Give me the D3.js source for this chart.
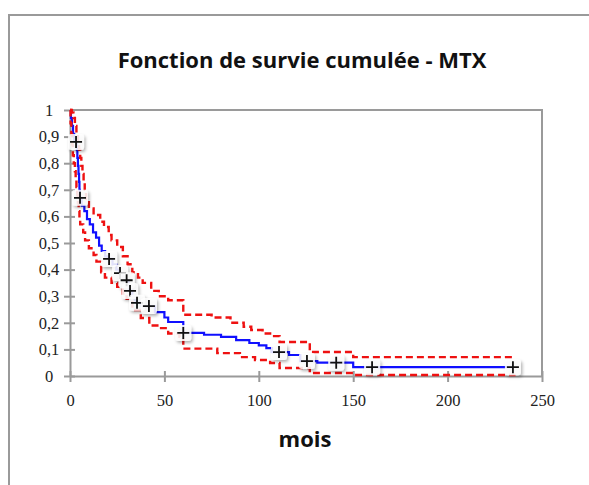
<!DOCTYPE html>
<html>
<head>
<meta charset="utf-8">
<script src="https://cdn.jsdelivr.net/npm/d3@7"></script>
<style>
  body { margin: 0; background: #fff; }
  svg { display: block; }
</style>
</head>
<body>
<script>
// Kaplan-Meier estimate (months, cumulative survival)
var kmTime = [0, 0.5, 1.0, 1.6, 2.2, 3.6, 3.9, 4.2, 4.5, 4.8, 5.0, 5.2, 6.2, 7.6, 9.0, 10.5, 12.2, 13.8, 15.4, 16.8, 18.6, 20.0,
  22.5, 24.5, 26.0, 28.0, 29.5, 31.0, 31.5, 33.0, 34.2, 35.0, 38.0, 45.0, 50.0, 52.0, 60.0, 71.0, 80.0, 88.0, 95.0,
  100.0, 104.0, 107.0, 116.0, 122.0, 131.0, 150.0, 234.6];
var kmSurv = [1, 0.97, 0.94, 0.91, 0.88, 0.85, 0.82, 0.79, 0.76, 0.73, 0.70, 0.67, 0.64, 0.62, 0.59, 0.57, 0.54, 0.52, 0.49, 0.47, 0.45, 0.44,
  0.42, 0.40, 0.387, 0.37, 0.36, 0.34, 0.32, 0.30, 0.285, 0.275, 0.263, 0.24, 0.22, 0.203, 0.162, 0.155, 0.147, 0.135, 0.124,
  0.115, 0.105, 0.09, 0.079, 0.056, 0.05, 0.033, 0.033];

// upper confidence bound
var upTime = [0, 1.0, 1.8, 2.6, 3.4, 4.2, 4.8, 5.4, 6.0, 6.6, 7.2, 7.8, 8.5, 10.0, 12.5, 16.0, 18.0, 20.5, 22.0, 25.0, 28.0,
  30.5, 33.0, 36.0, 38.5, 43.0, 47.0, 52.0, 60.0, 75.0, 85.0, 92.0, 96.0, 102.0, 106.0, 111.0, 127.0, 150.0, 236.0];
var upSurv = [1, 0.99, 0.97, 0.94, 0.91, 0.88, 0.85, 0.82, 0.79, 0.76, 0.73, 0.70, 0.66, 0.63, 0.605, 0.58, 0.56, 0.53, 0.51, 0.485, 0.45,
  0.42, 0.39, 0.37, 0.35, 0.32, 0.30, 0.285, 0.23, 0.22, 0.20, 0.185, 0.173, 0.16, 0.15, 0.128, 0.09, 0.071, 0.071];

// lower confidence bound
var loTime = [0, 0.3, 0.7, 1.1, 1.5, 2.0, 2.6, 3.0, 3.4, 3.8, 4.2, 4.6, 5.0, 5.4, 7.0, 8.0, 10.0, 12.5, 14.0, 16.5, 18.5,
  22.0, 25.0, 28.0, 30.0, 33.0, 37.5, 42.0, 47.0, 52.0, 58.0, 60.0, 78.0, 90.0, 98.0, 106.0, 111.0, 127.0, 150.0, 236.0];
var loSurv = [1, 0.95, 0.91, 0.87, 0.83, 0.80, 0.77, 0.74, 0.71, 0.68, 0.65, 0.62, 0.59, 0.57, 0.54, 0.51, 0.48, 0.455, 0.43, 0.39, 0.37,
  0.35, 0.335, 0.31, 0.29, 0.248, 0.218, 0.19, 0.18, 0.16, 0.147, 0.103, 0.086, 0.071, 0.06, 0.049, 0.03, 0.011, 0.004, 0.004];

// censored observations
var censTime = [3.2, 5.3, 20.7, 26.5, 30.0, 31.8, 35.5, 41.8, 60.0, 110.7, 125.5, 141.0, 160.0, 234.6];
var censSurv = [0.88, 0.67, 0.44, 0.387, 0.36, 0.32, 0.275, 0.263, 0.162, 0.09, 0.056, 0.05, 0.033, 0.033];

var xTicks = [0, 50, 100, 150, 200, 250];
var yTicks = [0, 0.1, 0.2, 0.3, 0.4, 0.5, 0.6, 0.7, 0.8, 0.9, 1];

var W = 589, H = 485;
var margin = {top: 110, right: 47, bottom: 109, left: 70},
    width = W - margin.left - margin.right,
    height = H - margin.top - margin.bottom;

var svg = d3.select("body").append("svg")
    .attr("width", W)
    .attr("height", H);

// shadow for the censor marks
var defs = svg.append("defs");
var f = defs.append("filter").attr("id", "sh")
    .attr("x", "-50%").attr("y", "-50%").attr("width", "200%").attr("height", "200%");
f.append("feDropShadow").attr("dx", 1.5).attr("dy", 2).attr("stdDeviation", 1.8)
    .attr("flood-color", "#000").attr("flood-opacity", 0.35);

// outer chart frame (cut by the window)
svg.append("rect")
    .attr("x", 9).attr("y", 15)
    .attr("width", 620).attr("height", 520)
    .style("fill", "#fff")
    .style("stroke", "#9a9a9a")
    .style("stroke-width", 2);

svg.append("text")
    .attr("x", 302).attr("y", 68)
    .attr("text-anchor", "middle")
    .style("font-family", "'Open Sans', sans-serif")
    .style("font-weight", "bold")
    .style("font-size", "22px")
    .style("fill", "#111")
    .text("Fonction de survie cumulée - MTX");

var g = svg.append("g")
    .attr("transform", "translate(" + margin.left + "," + margin.top + ")");

var x = d3.scaleLinear().domain([0, 250]).range([0, width]);
var y = d3.scaleLinear().domain([0, 1]).range([height, 0]);

// plot border (top and right)
g.append("path")
    .attr("d", "M0,0H" + width + "V" + height)
    .style("fill", "none")
    .style("stroke", "#9a9a9a")
    .style("stroke-width", 2);

var yaxis = d3.axisLeft(y)
    .tickValues(yTicks)
    .tickSizeInner(6).tickSizeOuter(0)
    .tickPadding(14)
    .tickFormat(function(d) { return d3.format(".1~f")(d).replace(".", ","); });

var xaxis = d3.axisBottom(x)
    .tickValues(xTicks)
    .tickSizeInner(6).tickSizeOuter(0)
    .tickPadding(12);

var gy = g.append("g").attr("class", "axis").call(yaxis);
var gx = g.append("g").attr("class", "axis")
    .attr("transform", "translate(0," + height + ")")
    .call(xaxis);

[gx, gy].forEach(function(a) {
    a.select(".domain").style("stroke", "#9a9a9a").style("stroke-width", 2);
    a.selectAll(".tick line").style("stroke", "#9a9a9a").style("stroke-width", 2);
    a.selectAll(".tick text")
        .style("font-family", "'Liberation Serif', serif")
        .style("font-size", "16.5px")
        .style("fill", "#222");
});
// ticks cross the axis line
gy.selectAll(".tick line").attr("x1", 5).attr("x2", -6);
gx.selectAll(".tick line").attr("y1", -5).attr("y2", 6);
gy.selectAll(".tick text").attr("text-anchor", "middle").attr("x", -21);
gx.selectAll(".tick text").attr("y", 18);

// lines
var line = d3.line()
    .x(function(d) { return x(d[0]); })
    .y(function(d) { return y(d[1]); })
    .curve(d3.curveStepAfter);

var km = d3.zip(kmTime, kmSurv);
var up = d3.zip(upTime, upSurv);
var lo = d3.zip(loTime, loSurv);

g.append("path")
    .datum(km)
    .attr("d", line)
    .style("fill", "none")
    .style("stroke", "#1010ff")
    .style("stroke-width", 2.2);

g.selectAll(".ci")
    .data([up, lo])
    .enter().append("path")
    .attr("class", "ci")
    .attr("d", line)
    .style("fill", "none")
    .style("stroke", "#ee1111")
    .style("stroke-width", 2.4)
    .style("stroke-dasharray", "7,4");

// censor marks
var cens = g.selectAll(".cens")
    .data(d3.zip(censTime, censSurv))
    .enter().append("g")
    .attr("class", "cens")
    .attr("transform", function(d) { return "translate(" + x(d[0]) + "," + y(d[1]) + ")"; });

cens.append("rect")
    .attr("x", -8).attr("y", -8).attr("width", 16).attr("height", 16)
    .attr("rx", 3)
    .style("fill", "#fff")
    .style("fill-opacity", 0.85)
    .attr("filter", "url(#sh)");

cens.append("path")
    .attr("d", "M-6,0H6M0,-6V6")
    .style("stroke", "#111")
    .style("stroke-width", 1.8);

svg.append("text")
    .attr("x", 305).attr("y", 447)
    .attr("text-anchor", "middle")
    .style("font-family", "'Open Sans', sans-serif")
    .style("font-weight", "bold")
    .style("font-size", "22px")
    .style("fill", "#111")
    .text("mois");
</script>
</body>
</html>
